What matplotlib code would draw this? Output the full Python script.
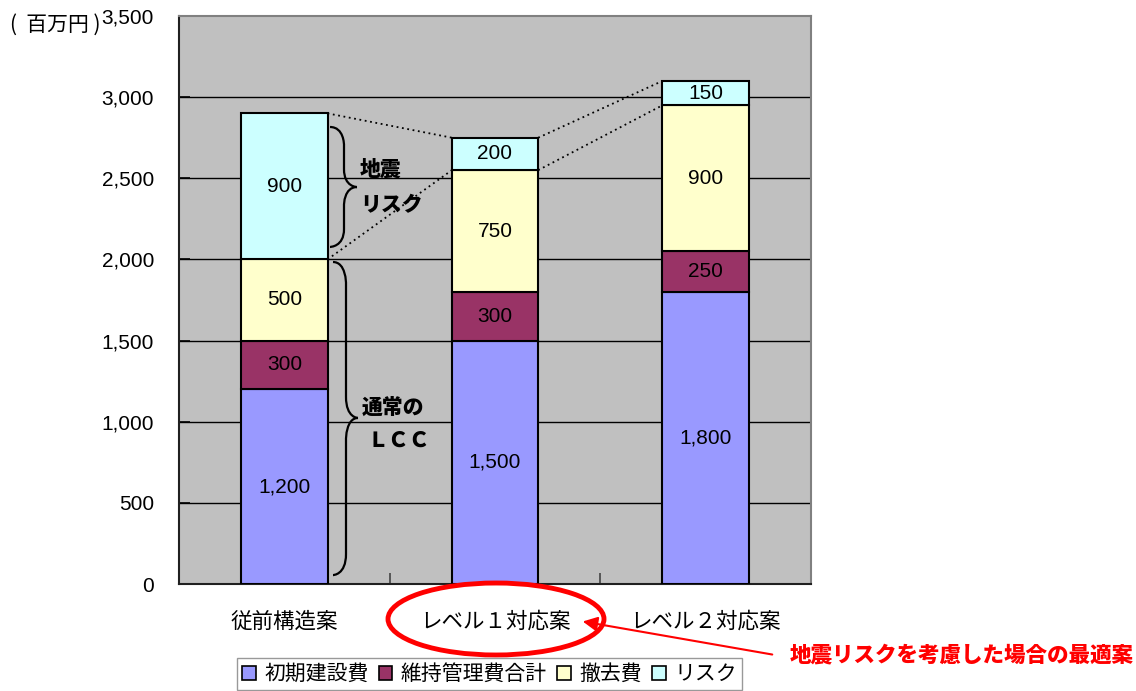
import matplotlib
matplotlib.use("Agg")
import matplotlib.pyplot as plt
import numpy as np
from matplotlib.patches import Patch, Ellipse, FancyArrowPatch, PathPatch
from matplotlib.path import Path

categories = ["従前構造案", "レベル１対応案", "レベル２対応案"]
series_names = ["初期建設費", "維持管理費合計", "撤去費", "リスク"]
initial_cost = [1200, 1500, 1800]
maintenance = [300, 300, 250]
removal = [500, 750, 900]
risk = [900, 200, 150]
colors = ["#9999FF", "#993366", "#FFFFCC", "#CCFFFF"]
yticks = [0, 500, 1000, 1500, 2000, 2500, 3000, 3500]
ytick_labels = ["0", "500", "1,000", "1,500", "2,000", "2,500", "3,000", "3,500"]

JP = ["Noto Sans CJK JP", "DejaVu Sans"]
NUM = ["Liberation Sans", "DejaVu Sans"]

fig = plt.figure(figsize=(11.36, 6.91), dpi=100)
ax = fig.add_axes([179/1136, 1-584/691, (811-179)/1136, (584-16)/691])
ax.set_facecolor("#C0C0C0")

x = np.arange(len(categories))
w = 0.41
series = [initial_cost, maintenance, removal, risk]
bottom = np.zeros(len(categories))
for vals, col in zip(series, colors):
    vals = np.array(vals, dtype=float)
    ax.bar(x, vals, w, bottom=bottom, color=col, edgecolor="black", linewidth=1.5, zorder=3)
    for xi, b, v in zip(x, bottom, vals):
        ax.text(xi, b + v/2, f"{int(v):,}", ha="center", va="center",
                fontsize=15, family=NUM, zorder=4)
    bottom = bottom + vals

ax.set_xlim(-0.5, 2.5)
ax.set_ylim(0, 3500)
ax.set_yticks(yticks)
ax.set_yticklabels(ytick_labels, family=NUM, fontsize=15)
ax.tick_params(axis="y", direction="in", length=8, width=1.2, color="black", pad=18)
for yv in yticks[1:-1]:
    ax.axhline(yv, color="black", linewidth=1, zorder=1)
ax.set_xticks(x)
ax.set_xticklabels(categories, family=JP, fontsize=15.5)
ax.tick_params(axis="x", which="major", length=0, pad=19)
ax.set_xticks([0.5, 1.5], minor=True)
ax.tick_params(axis="x", which="minor", direction="in", length=8, width=1.2, color="#444444")
for s in ["top", "right"]:
    ax.spines[s].set_color("#808080")
    ax.spines[s].set_linewidth(1.5)
for s in ["left", "bottom"]:
    ax.spines[s].set_color("#202020")
    ax.spines[s].set_linewidth(1.5)

# dotted connector lines
tops = np.cumsum(np.array(series), axis=0)
lcc = tops[2]
total = tops[3]
for i in range(len(categories) - 1):
    ax.plot([i + w/2, i + 1 - w/2], [total[i], total[i+1]], ls=(0, (1, 2)), color="black", lw=1.3, zorder=2)
    ax.plot([i + w/2, i + 1 - w/2], [lcc[i], lcc[i+1]], ls=(0, (1, 2)), color="black", lw=1.3, zorder=2)

def px2x(p):
    return (p - 179) / ((811 - 179) / 3) - 0.5

def brace(ax, xl, xm, xt, ytop, ymid, ybot, r=90):
    verts = [
        (xl, ytop), (xm, ytop), (xm, ytop - r), (xm, ytop - r),
        (xm, ymid + r),
        (xm, ymid), (xt, ymid), (xt, ymid),
        (xm, ymid), (xm, ymid - r), (xm, ymid - r),
        (xm, ybot + r),
        (xm, ybot), (xl, ybot), (xl, ybot),
    ]
    codes = [Path.MOVETO, Path.CURVE4, Path.CURVE4, Path.CURVE4,
             Path.LINETO,
             Path.CURVE4, Path.CURVE4, Path.CURVE4,
             Path.CURVE4, Path.CURVE4, Path.CURVE4,
             Path.LINETO,
             Path.CURVE4, Path.CURVE4, Path.CURVE4]
    ax.add_patch(PathPatch(Path(verts, codes), fill=False, lw=1.6, ec="black", zorder=5))

brace(ax, px2x(330), px2x(344), px2x(357), 2816, 2446, 2077, r=110)
brace(ax, px2x(333), px2x(346), px2x(358), 1984, 1023, 55, r=130)

ax.text(px2x(360), 2551, "地震", ha="left", va="center", fontsize=15, fontweight="black", family=JP, zorder=6)
ax.text(px2x(360), 2335, "リスク", ha="left", va="center", fontsize=15, fontweight="black", family=JP, zorder=6)
ax.text(px2x(362), 1084, "通常の", ha="left", va="center", fontsize=15, fontweight="black", family=JP, zorder=6)
ax.text(px2x(367), 881, "ＬＣＣ", ha="left", va="center", fontsize=15, fontweight="black", family=JP, zorder=6)

fig.text(10/1136, 1-25/691, "(  百万円 )", ha="left", va="center", fontsize=15, family=JP)

# legend
handles = [Patch(facecolor=c, edgecolor="black", linewidth=1.2) for c in colors]
leg = fig.legend(handles, series_names, loc="center", bbox_to_anchor=(489.5/1136, 1-674/691),
                 ncol=4, prop={"family": JP, "size": 15}, frameon=True, fancybox=False,
                 edgecolor="#808080", handlelength=0.65, handleheight=0.65, handletextpad=0.4,
                 columnspacing=0.5, borderpad=0.25, borderaxespad=0)
leg.get_frame().set_linewidth(1.0)

# red ellipse, arrow and note
fig.add_artist(Ellipse((496/1136, 1-619/691), 216/1136, 72/691, transform=fig.transFigure,
                       fill=False, ec="#FF0000", lw=3.5))
fig.add_artist(FancyArrowPatch((775/1136, 1-655/691), (580/1136, 1-621/691),
                               transform=fig.transFigure, arrowstyle="-|>", mutation_scale=22,
                               color="#FF0000", lw=1.5))
fig.text(790/1136, 1-655/691, "地震リスクを考慮した場合の最適案", ha="left", va="center",
         fontsize=15.5, fontweight="black", color="#FF0000", family=JP)

fig.savefig("out.png", dpi=100)
